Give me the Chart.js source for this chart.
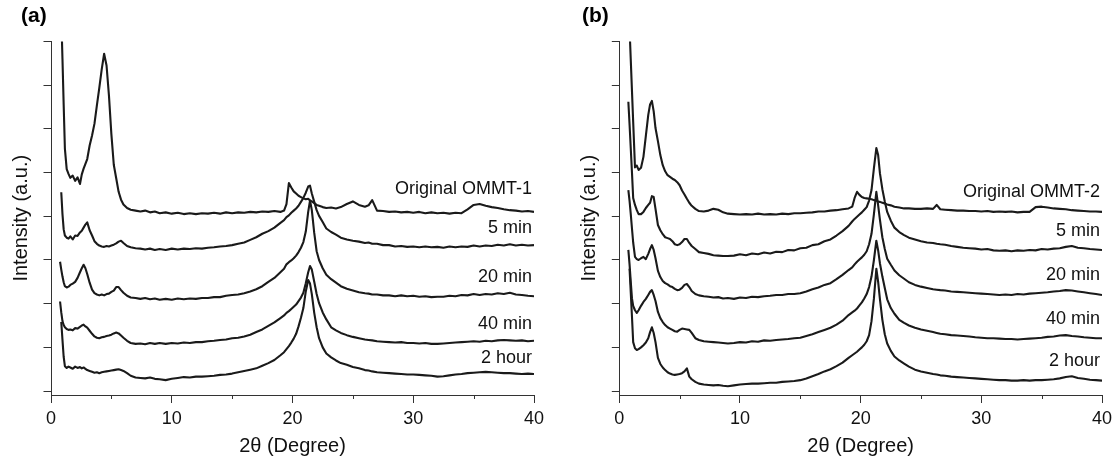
<!DOCTYPE html>
<html>
<head>
  <meta charset="utf-8" />
  <title>XRD OMMT</title>
  <script src="https://cdn.jsdelivr.net/npm/chart.js"></script>
  <style>
    body { margin: 0; background: #fff; }
    #wrap { position: relative; width: 1118px; height: 464px; }
    #chartA { position: absolute; left: 0; top: 0; }
    #chartB { position: absolute; left: 560px; top: 0; }
  </style>
</head>
<body>
  <div id="wrap">
    <canvas id="chartA" width="560" height="464"></canvas>
    <canvas id="chartB" width="558" height="464"></canvas>
  </div>
<script>
  // 2theta grid (degree), shared by every pattern
  const twoTheta = [
    0.75, 0.85, 0.95, 1.05, 1.15,
    1.3, 1.45, 1.6, 1.8, 2.0, 2.2, 2.4, 2.55, 2.7, 2.85,
    3.0, 3.2, 3.4, 3.6, 3.8, 4.0, 4.2, 4.4, 4.6, 4.8, 5.0, 5.2, 5.4, 5.6, 5.8, 6.0,
    6.3, 6.6, 7.0, 7.4, 7.8, 8.2, 8.6, 9.0,
    9.5, 10, 10.5, 11, 11.5, 12, 12.5, 13, 13.5, 14, 14.5, 15, 15.5, 16, 16.5, 17, 17.5, 18, 18.5, 19,
    19.3, 19.5, 19.7, 19.9, 20.1, 20.3, 20.5, 20.7, 20.9, 21.1, 21.3, 21.45, 21.6, 21.8, 22.0, 22.2,
    22.5, 22.8, 23.2, 23.6, 24, 24.5, 25, 25.5, 26, 26.3, 26.6,
    27, 27.5, 28, 28.5, 29, 29.5, 30, 30.5, 31, 31.5, 32, 32.5, 33, 33.5, 34, 34.5, 35, 35.5, 36, 36.5, 37, 37.5, 38, 38.5, 39, 39.5, 40
  ];

  // panel (a) - stacked intensities (a.u., offset)
  const ommt1Original = [
    null, 860, 760, 655, 555,
    508, 497, 488, 493, 481, 489, 474, 496, 509, 520,
    531, 562, 585, 612, 654, 694, 736, 772, 745, 676, 588, 518, 487, 456, 438, 427,
    419, 415, 413, 411, 413, 409, 411, 407,
    409, 406, 408, 405, 407, 405, 407, 406, 408, 406, 409, 407, 409, 408, 410, 409, 411, 410, 412, 410,
    413, 428, 476, 466, 457, 452, 447, 444, 441, 439, 440, 436, 434, 430, 426, 424,
    421, 419, 420, 418, 421, 428, 434, 426, 422, 425, 437,
    413, 412, 410, 411, 409, 410, 408, 410, 407, 409, 407, 408, 406, 408, 407, 416, 426, 428, 424, 421, 419, 416, 414, 413, 411, 412, 410
  ];
  const ommt1Min5 = [
    null, 455, 405, 370, 356,
    351, 349, 354, 347, 356, 355, 363, 367, 374, 381,
    386, 368, 356, 343, 337, 333, 331, 330, 332, 331, 333, 335, 338, 342, 344, 339,
    332, 329, 327, 326, 324, 326, 323, 325,
    323, 326, 324, 326, 325, 327, 326, 328, 329, 331, 332, 334, 337, 340, 346, 352, 360, 366, 374, 385,
    391, 398, 402, 408, 413, 418, 424, 433, 442, 454, 468, 470, 452, 433, 414, 401,
    387, 372, 364, 358, 351, 347, 344, 342, 339, 340, 337,
    337, 334, 334, 331, 332, 330, 331, 329, 331, 329, 330, 328, 331, 329, 331, 330, 333, 331, 333, 332, 335, 333, 336, 333, 335, 333, 334
  ];
  const ommt1Min20 = [
    296, 278, 262, 249, 240,
    237, 239, 243, 246, 250, 259, 272, 281, 289, 281,
    268, 248, 232, 224, 221, 219, 221, 219, 222, 223, 227, 230, 238, 238, 231, 225,
    218, 214, 213, 211, 213, 210, 212, 209,
    211, 209, 212, 210, 212, 211, 213, 213, 215, 215, 218, 220, 221, 224, 228, 233, 240, 250, 259, 272,
    280, 290, 295, 299, 304, 310, 318, 328, 341, 365, 410, 436, 414, 362, 320, 300,
    281, 266, 256, 248, 240, 234, 230, 226, 224, 223, 221,
    221, 219, 219, 217, 219, 217, 218, 216, 217, 215, 216, 216, 218, 217, 220, 219, 222, 220, 222, 221, 224, 222, 225, 221, 220, 218, 217
  ];
  const ommt1Min40 = [
    205, 180, 160, 151, 146,
    142, 140, 141, 139, 144, 143, 147, 150, 152, 148,
    145, 138, 131, 125, 122, 121, 123, 124, 126, 127, 129, 132, 134, 132, 127, 122,
    115, 110, 108, 109, 107, 110, 108, 110,
    108, 110, 109, 111, 110, 112, 112, 114, 115, 117, 118, 121, 122, 125, 129, 135, 141, 149, 157, 167,
    173, 179, 183, 188, 193, 198, 206, 214, 225, 247, 272, 286, 278, 250, 222, 201,
    180, 164, 146, 139, 133, 128, 124, 121, 118, 117, 116,
    114, 113, 112, 111, 112, 110, 110, 109, 110, 108, 108, 109, 110, 111, 112, 113, 114, 113, 115, 114, 116, 117, 116, 115, 116, 114, 115
  ];
  const ommt1Hour2 = [
    null, 158, 117, 78, 57,
    53, 56, 54, 51, 56, 53, 55, 52, 54, 51,
    48, 46, 44, 42, 43, 41, 43, 44, 45, 46, 47, 48, 49, 50, 48, 46,
    41, 35, 31, 30, 29, 31, 28, 27,
    25, 28, 30, 32, 31, 33, 33, 34, 35, 37, 38, 40, 43, 46, 49, 52, 58, 64, 71, 82,
    89, 96, 103, 111, 120, 131, 148, 168, 190, 228, 254, 246, 222, 179, 146, 121,
    100, 86, 77, 70, 64, 60, 55, 52, 48, 47, 45,
    43, 42, 41, 40, 39, 38, 38, 37, 36, 35, 33, 34, 36, 38, 39, 41, 42, 43, 44, 43, 42, 41, 41, 40, 39, 40, 39
  ];

  // panel (b)
  const ommt2Original = [
    null, 830, 758, 687, 616,
    512, 516, 506, 511, 536, 584, 632, 656, 664, 640,
    602, 572, 540, 517, 503, 494, 490, 486, 483, 478, 471, 459, 450, 440, 431, 424,
    417, 412, 411, 413, 417, 415, 409, 406,
    405, 404, 405, 404, 406, 404, 405, 404, 406, 405, 407, 407, 408, 409, 411, 411, 413, 414, 416, 418,
    422, 442, 456, 449, 444, 442, 441, 440, 439, 437, 436, 434, 433, 431, 429, 427,
    425, 422, 420, 418, 418, 417, 417, 418, 417, 426, 416,
    415, 414, 413, 413, 412, 412, 411, 412, 410, 411, 410, 411, 409, 410, 410, 421, 422, 420, 418, 417, 416, 414, 413, 412, 411, 411, 410
  ];
  const ommt2Min5 = [
    662, 610, 555, 500, 442,
    426, 414, 405, 405, 410, 419, 426, 431, 446, 444,
    417, 380, 368, 359, 352, 350, 348, 343, 336, 334, 336, 341, 348, 348, 339, 332,
    325, 318, 316, 314, 311, 310, 309, 309,
    310, 313, 311, 315, 313, 317, 315, 319, 318, 323, 322, 327, 328, 334, 336, 343, 347, 356, 366, 378,
    388, 394, 399, 404, 409, 415, 421, 436, 460, 510, 556, 540, 498, 462, 434, 410,
    390, 374, 364, 357, 351, 347, 343, 340, 339, 337, 336,
    335, 332, 330, 328, 327, 326, 324, 325, 322, 321, 322, 320, 322, 321, 323, 322, 325, 324, 326, 327, 330, 332, 328, 327, 325, 324, 323
  ];
  const ommt2Min20 = [
    460, 435, 405, 372, 340,
    307, 302, 300, 304, 307, 302, 314, 325, 334, 323,
    304, 275, 261, 252, 247, 244, 240, 238, 234, 231, 232, 236, 243, 245, 238, 229,
    222, 219, 217, 216, 214, 215, 212, 213,
    211, 214, 213, 216, 215, 217, 218, 220, 220, 222, 222, 224, 228, 233, 237, 243, 247, 256, 266, 277,
    283, 290, 296, 301, 306, 312, 320, 336, 360, 405, 456, 425, 392, 352, 325, 303,
    289, 276, 265, 257, 249, 243, 239, 236, 233, 232, 231,
    230, 228, 227, 226, 225, 224, 223, 222, 221, 220, 221, 220, 222, 221, 223, 224, 225, 226, 228, 229, 231, 230, 228, 226, 224, 222, 220
  ];
  const ommt2Min40 = [
    323, 290, 250, 212, 195,
    185, 179, 185, 195, 204, 211, 220, 227, 231, 220,
    206, 181, 167, 158, 151, 146, 143, 140, 137, 136, 140, 143, 142, 141, 140, 133,
    121, 117, 114, 113, 112, 111, 110, 109,
    110, 112, 111, 114, 113, 116, 115, 117, 118, 119, 121, 122, 126, 130, 135, 140, 145, 152, 161, 174,
    180, 184, 189, 196, 203, 212, 222, 238, 262, 300, 344, 322, 292, 262, 236, 210,
    190, 177, 163, 156, 150, 145, 141, 138, 135, 133, 131,
    130, 128, 127, 126, 125, 123, 122, 121, 121, 120, 119, 119, 118, 119, 120, 121, 122, 124, 125, 127, 128, 126, 125, 123, 122, 121, 121
  ];
  const ommt2Hour2 = [
    null, 280, 225, 170, 112,
    98, 94, 96, 100, 105, 111, 121, 135, 146, 133,
    112, 76, 62, 54, 48, 43, 40, 38, 37, 38, 39, 41, 45, 52, 33, 27,
    21, 17, 15, 14, 13, 14, 12, 11,
    13, 15, 16, 17, 17, 18, 19, 19, 21, 22, 23, 25, 29, 34, 39, 45, 50, 57, 65, 76,
    82, 86, 90, 95, 100, 106, 114, 128, 160, 212, 280, 250, 210, 163, 130, 109,
    92, 79, 70, 63, 56, 49, 45, 42, 39, 38, 36,
    35, 33, 32, 31, 30, 29, 28, 27, 26, 25, 25, 24, 24, 25, 24, 25, 25, 26, 27, 29, 32, 34, 30, 28, 26, 25, 24
  ];

  // curve names and the intensity level where each name sits
  const namesA = ["Original OMMT-1", "5 min", "20 min", "40 min", "2 hour"];
  const namesB = ["Original OMMT-2", "5 min", "20 min", "40 min", "2 hour"];
  const nameLevelsA = [462, 373, 261, 153, 76];
  const nameLevelsB = [456, 367, 266, 165, 69];

  const yTicks = [0, 100, 200, 300, 400, 500, 600, 700, 800];
  const minorXTicks = [5, 15, 25, 35];

  const FONT = "'Liberation Sans', Arial, Helvetica, sans-serif";
  const INK = "#1a1a1a";
  const AXIS = "#333";

  function toPoints(values) {
    if (values.length != twoTheta.length) console.log("length mismatch", values.length);
    return twoTheta.map(function (t, i) {
      return { x: t, y: values[i] };
    });
  }

  // minor x ticks, panel letter and curve names
  const panelDecor = {
    id: "panelDecor",
    afterDraw(chart, args, opts) {
      const ctx = chart.ctx;
      const area = chart.chartArea;
      const xs = chart.scales.x;
      const ys = chart.scales.y;
      ctx.save();
      ctx.strokeStyle = AXIS;
      ctx.lineWidth = 1;
      minorXTicks.forEach(function (v) {
        const px = Math.round(xs.getPixelForValue(v)) + 0.5;
        ctx.beginPath();
        ctx.moveTo(px, area.bottom);
        ctx.lineTo(px, area.bottom + 4);
        ctx.stroke();
      });
      ctx.fillStyle = "#000";
      ctx.textBaseline = "middle";
      ctx.textAlign = "left";
      ctx.font = "bold 21px " + FONT;
      ctx.fillText(opts.letter, opts.letterX, 16);
      ctx.font = "18px " + FONT;
      ctx.fillStyle = "#111";
      ctx.textAlign = "right";
      const right = xs.getPixelForValue(40) - 2;
      opts.names.forEach(function (n, i) {
        ctx.fillText(n, right, ys.getPixelForValue(opts.levels[i]));
      });
      ctx.restore();
    },
  };

  function desenharPainel(canvasId, series, cfg) {
    const datasets = series.map(function (s) {
      return {
        data: toPoints(s),
        borderColor: INK,
        borderWidth: 2.1,
        borderJoinStyle: "round",
        pointRadius: 0,
        tension: 0,
        fill: false,
      };
    });

    return new Chart(document.getElementById(canvasId), {
      type: "line",
      data: { datasets: datasets },
      plugins: [panelDecor],
      options: {
        responsive: false,
        animation: false,
        devicePixelRatio: 1,
        layout: { padding: { top: 41.5, right: cfg.rightPad, left: 0, bottom: 0 } },
        plugins: {
          legend: { display: false },
          tooltip: { enabled: false },
          panelDecor: { letter: cfg.letter, letterX: cfg.letterX, names: cfg.names, levels: cfg.levels },
        },
        scales: {
          x: {
            type: "linear",
            min: 0,
            max: 40,
            ticks: { stepSize: 10, padding: 5, color: "#111", font: { family: FONT, size: 18 }, maxRotation: 0 },
            grid: { drawOnChartArea: false, tickLength: 8, color: AXIS, tickColor: AXIS },
            border: { color: AXIS, width: 1 },
            title: {
              display: true,
              text: "2θ (Degree)",
              color: "#111",
              font: { family: FONT, size: 20 },
              padding: { top: 0, bottom: 6 },
            },
            afterFit: function (s) { s.height = 69; },
          },
          y: {
            type: "linear",
            min: -9,
            max: 800,
            afterBuildTicks: function (s) {
              s.ticks = yTicks.map(function (v) { return { value: v }; });
            },
            ticks: { display: false },
            grid: { drawOnChartArea: false, tickLength: 7.5, color: AXIS, tickColor: AXIS },
            border: { color: AXIS, width: 1 },
            title: {
              display: true,
              text: "Intensity (a.u.)",
              color: "#111",
              font: { family: FONT, size: 20 },
              padding: { top: cfg.titlePad, bottom: 0 },
            },
            afterFit: function (s) { s.width = cfg.axisWidth; },
          },
        },
      },
    });
  }

  desenharPainel("chartA",
    [ommt1Original, ommt1Min5, ommt1Min20, ommt1Min40, ommt1Hour2],
    { letter: "(a)", letterX: 21, names: namesA, levels: nameLevelsA, rightPad: 26, axisWidth: 51, titlePad: 9 });

  desenharPainel("chartB",
    [ommt2Original, ommt2Min5, ommt2Min20, ommt2Min40, ommt2Hour2],
    { letter: "(b)", letterX: 22, names: namesB, levels: nameLevelsB, rightPad: 16, axisWidth: 59.3, titlePad: 17 });
</script>
</body>
</html>
